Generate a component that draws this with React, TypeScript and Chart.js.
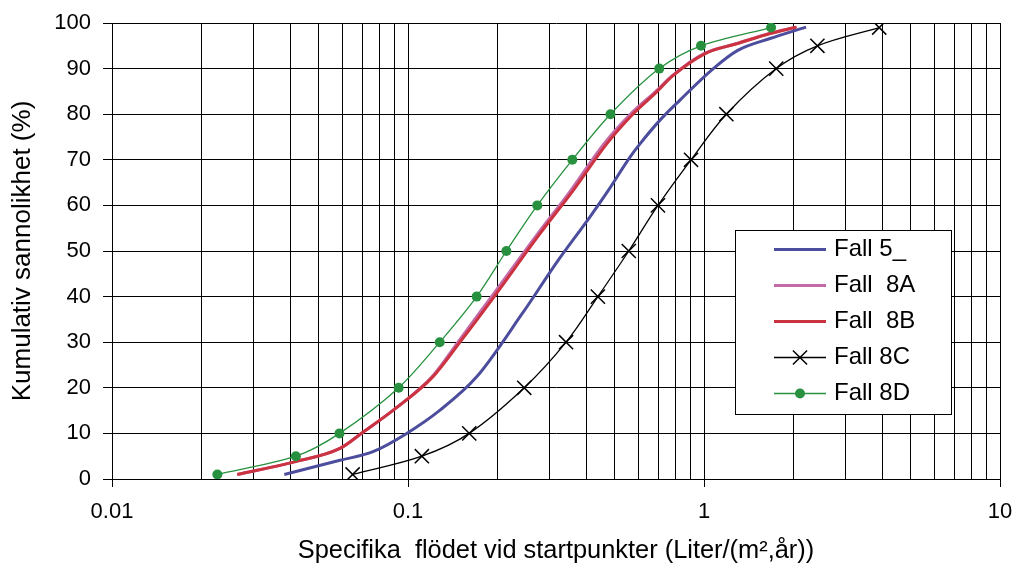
import { useEffect, useRef } from 'react';
import { Chart, registerables } from 'chart.js';

Chart.register(...registerables);

// ---- Data ----
const fall5X = [0.0382, 0.0589, 0.0762, 0.099, 0.1283, 0.1706, 0.2433, 0.3219, 0.4119, 0.4751, 0.5623, 0.6077, 0.7102, 0.8297, 1.075, 1.3, 1.671, 2.212];
const fall5Y = [1.0, 4.1, 6.0, 10, 15.1, 22.4, 36.3, 48, 57.5, 63.3, 70.6, 73.5, 78.7, 83.1, 90, 94, 96.6, 99.1];

const fall8AX = [0.0265, 0.041, 0.0589, 0.0706, 0.0892, 0.1205, 0.149, 0.191, 0.2745, 0.355, 0.459, 0.566, 0.684, 0.779, 1.0, 1.29, 1.66, 2.04];
const fall8AY = [1.0, 3.7, 6.7, 10.3, 15.1, 22.4, 30.4, 39.9, 53.8, 63.3, 73.5, 80.1, 84.9, 88.4, 93.3, 95.5, 97.7, 99.1];

const fall8BX = [0.0265, 0.041, 0.0589, 0.0706, 0.0892, 0.1213, 0.1514, 0.195, 0.2792, 0.3617, 0.4692, 0.5769, 0.6922, 0.784, 1.0094, 1.3, 1.673, 2.057];
const fall8BY = [1.0, 3.7, 6.7, 10.3, 15.1, 22.4, 30.4, 39.9, 53.8, 63.3, 73.5, 80.1, 84.9, 88.4, 93.3, 95.5, 97.7, 99.1];

const fall8CX = [0.065, 0.1114, 0.161, 0.247, 0.342, 0.438, 0.557, 0.699, 0.904, 1.19, 1.754, 2.416, 3.908];
const fall8CY = [1, 5, 10, 20, 30, 40, 50, 60, 70, 80, 90, 95, 99];

const fall8DX = [0.0227, 0.0418, 0.0587, 0.093, 0.128, 0.1706, 0.215, 0.2734, 0.359, 0.483, 0.706, 0.977, 1.685];
const fall8DY = [1, 5, 10, 20, 30, 40, 50, 60, 70, 80, 90, 95, 99];

const seriesNames = ['Fall 5_', 'Fall  8A', 'Fall  8B', 'Fall 8C', 'Fall 8D'];

const xTickValues = [
  0.01, 0.02, 0.03, 0.04, 0.05, 0.06, 0.07, 0.08, 0.09,
  0.1, 0.2, 0.3, 0.4, 0.5, 0.6, 0.7, 0.8, 0.9,
  1, 2, 3, 4, 5, 6, 7, 8, 9, 10,
];
const xTickLabels = ['0.01', '0.1', '1', '10'];

const xTitle = 'Specifika  flödet vid startpunkter (Liter/(m²,år))';
const yTitle = 'Kumulativ sannolikhet (%)';

const FONT = '"Liberation Sans", Arial, Helvetica, sans-serif';

function pts(xs: number[], ys: number[]) {
  return xs.map((x, i) => ({ x, y: ys[i] }));
}

function isDecade(v: number) {
  const l = Math.log10(v);
  return Math.abs(l - Math.round(l)) < 1e-9;
}

const legendPlugin = {
  id: 'boxLegend',
  afterDraw(chart: any) {
    const ctx = chart.ctx as CanvasRenderingContext2D;
    const bx = 735.5, by = 230.5, bw = 216, bh = 184;
    ctx.save();
    ctx.fillStyle = '#ffffff';
    ctx.fillRect(bx, by, bw, bh);
    ctx.strokeStyle = '#000';
    ctx.lineWidth = 1;
    ctx.strokeRect(bx, by, bw, bh);
    const x0 = 774, x1 = 826, xm = 800;
    chart.data.datasets.forEach((ds: any, i: number) => {
      const y = 249.5 + i * 36;
      ctx.beginPath();
      ctx.strokeStyle = ds.borderColor;
      ctx.lineWidth = ds.borderWidth;
      ctx.lineCap = 'butt';
      ctx.moveTo(x0, y);
      ctx.lineTo(x1, y);
      ctx.stroke();
      if (ds.pointStyle === 'crossRot') {
        const d = Math.cos(Math.PI / 4) * ds.pointRadius;
        ctx.beginPath();
        ctx.lineWidth = ds.pointBorderWidth;
        ctx.strokeStyle = ds.pointBorderColor;
        ctx.moveTo(xm - d, y - d);
        ctx.lineTo(xm + d, y + d);
        ctx.moveTo(xm - d, y + d);
        ctx.lineTo(xm + d, y - d);
        ctx.stroke();
      } else if (ds.pointStyle === 'circle' && ds.pointRadius > 0) {
        ctx.beginPath();
        ctx.fillStyle = ds.pointBackgroundColor;
        ctx.arc(xm, y, ds.pointRadius, 0, Math.PI * 2);
        ctx.fill();
      }
      ctx.fillStyle = '#000';
      ctx.font = `24px ${FONT}`;
      ctx.textAlign = 'left';
      ctx.textBaseline = 'middle';
      ctx.fillText(seriesNames[i], 834, y);
    });
    ctx.restore();
  },
};

export default function App() {
  const canvasRef = useRef<HTMLCanvasElement | null>(null);

  useEffect(() => {
    if (!canvasRef.current) return;
    Chart.defaults.font.family = FONT;
    Chart.defaults.color = '#000';

    const chart = new Chart(canvasRef.current, {
      type: 'line',
      data: {
        datasets: [
          {
            label: seriesNames[0],
            data: pts(fall5X, fall5Y),
            borderColor: '#4d4d9d',
            borderWidth: 3,
            pointRadius: 0,
            pointStyle: 'circle',
            cubicInterpolationMode: 'monotone',
            order: 4,
          },
          {
            label: seriesNames[1],
            data: pts(fall8AX, fall8AY),
            borderColor: '#c46aa8',
            borderWidth: 3,
            pointRadius: 0,
            pointStyle: 'circle',
            cubicInterpolationMode: 'monotone',
            order: 3,
          },
          {
            label: seriesNames[2],
            data: pts(fall8BX, fall8BY),
            borderColor: '#cc3340',
            borderWidth: 3,
            pointRadius: 0,
            pointStyle: 'circle',
            cubicInterpolationMode: 'monotone',
            order: 2,
          },
          {
            label: seriesNames[3],
            data: pts(fall8CX, fall8CY),
            borderColor: '#000000',
            borderWidth: 1.3,
            pointStyle: 'crossRot',
            pointRadius: 10,
            pointBorderWidth: 1.5,
            pointBorderColor: '#000000',
            pointBackgroundColor: '#000000',
            tension: 0.35,
            order: 1,
          },
          {
            label: seriesNames[4],
            data: pts(fall8DX, fall8DY),
            borderColor: '#27913f',
            borderWidth: 1.3,
            pointStyle: 'circle',
            pointRadius: 5,
            pointBorderWidth: 0,
            pointBackgroundColor: '#27913f',
            pointBorderColor: '#27913f',
            tension: 0.3,
            order: 0,
          },
        ],
      },
      options: {
        animation: false,
        responsive: false,
        maintainAspectRatio: false,
        layout: { padding: { top: 23, right: 16, left: 0, bottom: 0 } },
        plugins: {
          legend: { display: false },
          tooltip: { enabled: false },
        },
        scales: {
          x: {
            type: 'logarithmic',
            min: 0.01,
            max: 10,
            afterBuildTicks: (axis: any) => {
              axis.ticks = xTickValues.map((v) => ({ value: v }));
            },
            afterFit: (axis: any) => {
              axis.height = 90;
              axis.paddingLeft = 0;
              axis.paddingRight = 0;
            },
            ticks: {
              autoSkip: false,
              maxRotation: 0,
              minRotation: 0,
              padding: 12,
              font: { size: 22 },
              color: '#000',
              callback: (value: any) => {
                const v = Number(value);
                if (!isDecade(v)) return '';
                const idx = Math.round(Math.log10(v)) + 2;
                return xTickLabels[idx] ?? '';
              },
            },
            grid: {
              color: '#000',
              lineWidth: 1,
              drawTicks: true,
              tickLength: 8,
              tickColor: (c: any) => (c.tick && isDecade(c.tick.value) ? '#000' : 'rgba(0,0,0,0)'),
            },
            border: { display: true, color: '#000', width: 1 },
            title: {
              display: true,
              text: xTitle,
              font: { size: 25.4 },
              color: '#000',
              padding: { top: 0, bottom: 3 },
            },
          },
          y: {
            type: 'linear',
            min: 0,
            max: 100,
            afterFit: (axis: any) => {
              axis.width = 112;
              axis.paddingTop = 0;
              axis.paddingBottom = 0;
            },
            ticks: {
              stepSize: 10,
              padding: 12,
              font: { size: 22 },
              color: '#000',
            },
            grid: {
              color: '#000',
              lineWidth: 1,
              drawTicks: true,
              tickLength: 9,
              tickColor: '#000',
            },
            border: { display: true, color: '#000', width: 1 },
            title: {
              display: true,
              text: yTitle,
              font: { size: 26 },
              color: '#000',
              padding: { top: 7, bottom: 0 },
            },
          },
        },
      },
      plugins: [legendPlugin],
    } as any);

    return () => {
      chart.destroy();
    };
  }, []);

  return (
    <div style={{ position: 'fixed', left: 0, top: 0, width: 1016, height: 569, background: '#fff' }}>
      <canvas ref={canvasRef} width={1016} height={569} style={{ display: 'block' }} />
    </div>
  );
}
